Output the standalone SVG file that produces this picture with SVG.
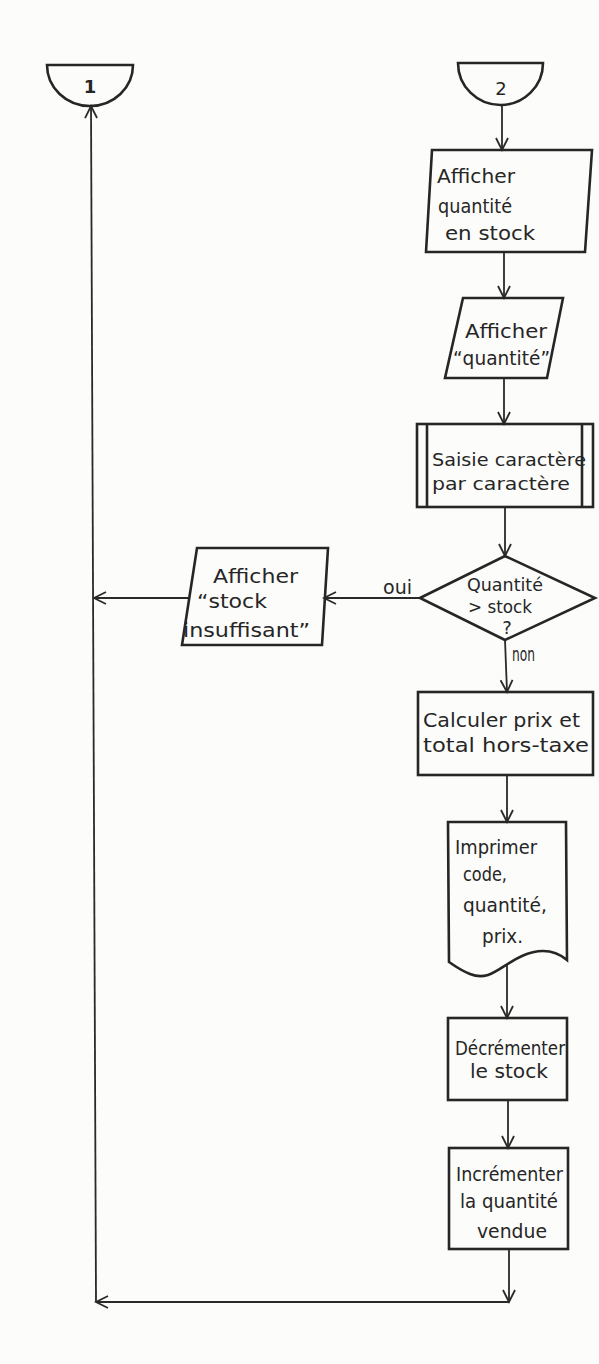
<svg xmlns="http://www.w3.org/2000/svg" width="599" height="1364" viewBox="0 0 599 1364">
<style>
.sh{fill:none;stroke:#262626;stroke-width:2.6;stroke-linejoin:miter}
.ln{fill:none;stroke:#2a2a2a;stroke-width:1.8}
.t{font-family:"DejaVu Sans",sans-serif;font-size:20px;fill:#262626}
.s{font-size:18px}
.m{font-size:18px}
</style>
<defs>
<marker id="ar" markerUnits="userSpaceOnUse" markerWidth="16" markerHeight="16" viewBox="-14 -8 16 16" refX="0" refY="0" orient="auto">
<path d="M-12,-6 L0,0 L-12,6" fill="none" stroke="#2a2a2a" stroke-width="1.8"/>
</marker>
</defs>
<rect x="0" y="0" width="599" height="1364" fill="#fcfcfa"/>

<g id="connectors">
<path class="ln" d="M502,105 L502,150" marker-end="url(#ar)"/>
<path class="ln" d="M504,252 L504,298" marker-end="url(#ar)"/>
<path class="ln" d="M504,378 L504,424" marker-end="url(#ar)"/>
<path class="ln" d="M505,507 L505,556" marker-end="url(#ar)"/>
<path class="ln" d="M420,598 L324,598" marker-end="url(#ar)"/>
<path class="ln" d="M189,598 L94,598" marker-end="url(#ar)"/>
<path class="ln" d="M505,640 L507,692" marker-end="url(#ar)"/>
<path class="ln" d="M507,775 L507,822" marker-end="url(#ar)"/>
<path class="ln" d="M507,965 L507,1018" marker-end="url(#ar)"/>
<path class="ln" d="M508,1100 L508,1148" marker-end="url(#ar)"/>
<path class="ln" d="M509,1249 L509,1302" marker-end="url(#ar)"/>
<path class="ln" d="M509,1302 L96,1302" marker-end="url(#ar)"/>
<path class="ln" d="M96,1302 L91,106" marker-end="url(#ar)"/>
<text class="t" x="383" y="594" textLength="29" lengthAdjust="spacingAndGlyphs">oui</text>
<text class="t" x="512" y="661" textLength="23" lengthAdjust="spacingAndGlyphs">non</text>
</g>

<g id="conn1">
<path class="sh" d="M47,65 L133,65 A43,41 0 0 1 47,65 Z"/>
<text class="t s" x="90" y="93" text-anchor="middle" font-weight="bold">1</text>
</g>

<g id="conn2">
<path class="sh" d="M458,63 L543,63 A42.5,42 0 0 1 458,63 Z"/>
<text class="t s" x="501" y="95" text-anchor="middle">2</text>
</g>

<g id="afficher-stock">
<polygon class="sh" points="432,150 592,150 585,252 426,252"/>
<text class="t" x="437" y="183" textLength="78" lengthAdjust="spacingAndGlyphs">Afficher</text>
<text class="t" x="438" y="213" textLength="74" lengthAdjust="spacingAndGlyphs">quantité</text>
<text class="t" x="445" y="240" textLength="90" lengthAdjust="spacingAndGlyphs">en stock</text>
</g>

<g id="afficher-quantite">
<polygon class="sh" points="463,298 563,298 547,378 445,378"/>
<text class="t" x="465" y="338" textLength="82" lengthAdjust="spacingAndGlyphs">Afficher</text>
<text class="t" x="453" y="365" textLength="97" lengthAdjust="spacingAndGlyphs">“quantité”</text>
</g>

<g id="saisie">
<rect class="sh" x="417" y="424" width="176" height="83"/>
<line class="sh" x1="427" y1="424" x2="427" y2="507"/>
<line class="sh" x1="582" y1="424" x2="582" y2="507"/>
<text class="t m" x="432" y="466" textLength="154" lengthAdjust="spacingAndGlyphs">Saisie caractère</text>
<text class="t m" x="432" y="490" textLength="138" lengthAdjust="spacingAndGlyphs">par caractère</text>
</g>

<g id="decision">
<polygon class="sh" points="420,598 505,556 595,598 505,640"/>
<text class="t m" x="467" y="591" textLength="76" lengthAdjust="spacingAndGlyphs">Quantité</text>
<text class="t m" x="468" y="613" textLength="64" lengthAdjust="spacingAndGlyphs">&gt; stock</text>
<text class="t m" x="507" y="634" text-anchor="middle">?</text>
</g>

<g id="stock-insuffisant">
<polygon class="sh" points="197,548 328,548 322,645 182,645"/>
<text class="t" x="213" y="583" textLength="85" lengthAdjust="spacingAndGlyphs">Afficher</text>
<text class="t" x="197" y="608" textLength="70" lengthAdjust="spacingAndGlyphs">“stock</text>
<text class="t" x="183" y="637" textLength="127" lengthAdjust="spacingAndGlyphs">insuffisant”</text>
</g>

<g id="calculer">
<rect class="sh" x="418" y="692" width="175" height="83"/>
<text class="t" x="423" y="727" textLength="157" lengthAdjust="spacingAndGlyphs">Calculer prix et</text>
<text class="t" x="423" y="752" textLength="166" lengthAdjust="spacingAndGlyphs">total hors-taxe</text>
</g>

<g id="imprimer">
<path class="sh" d="M449,962 L448,822 L566,822 L567,960 C555,950 540,948 522,956 C500,966 490,982 470,974 C460,970 455,966 449,962 Z"/>
<text class="t" x="455" y="854" textLength="82" lengthAdjust="spacingAndGlyphs">Imprimer</text>
<text class="t" x="463" y="881" textLength="44" lengthAdjust="spacingAndGlyphs">code,</text>
<text class="t" x="463" y="912" textLength="84" lengthAdjust="spacingAndGlyphs">quantité,</text>
<text class="t" x="482" y="943" textLength="41" lengthAdjust="spacingAndGlyphs">prix.</text>
</g>

<g id="decrementer">
<rect class="sh" x="448" y="1018" width="119" height="82"/>
<text class="t" x="455" y="1055" textLength="110" lengthAdjust="spacingAndGlyphs">Décrémenter</text>
<text class="t" x="470" y="1078" textLength="78" lengthAdjust="spacingAndGlyphs">le stock</text>
</g>

<g id="incrementer">
<rect class="sh" x="449" y="1148" width="119" height="101"/>
<text class="t" x="456" y="1181" textLength="107" lengthAdjust="spacingAndGlyphs">Incrémenter</text>
<text class="t" x="460" y="1208" textLength="98" lengthAdjust="spacingAndGlyphs">la quantité</text>
<text class="t" x="477" y="1238" textLength="70" lengthAdjust="spacingAndGlyphs">vendue</text>
</g>
</svg>
